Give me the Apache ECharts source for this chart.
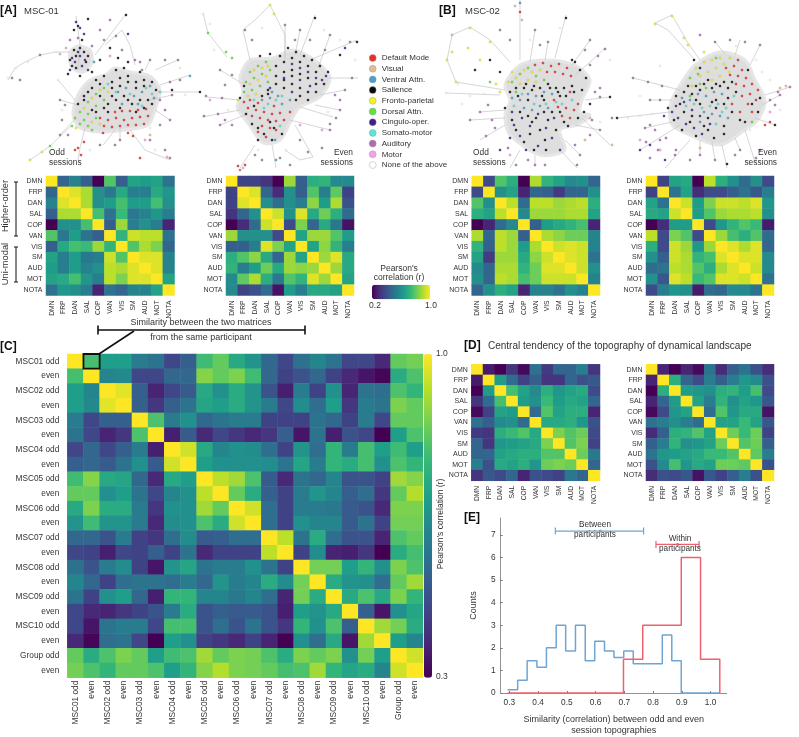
<!DOCTYPE html>
<html>
<head>
<meta charset="utf-8">
<style>html,body{margin:0;padding:0;background:#fff}#chart{width:799px;height:737px}</style>
<script src="https://cdn.jsdelivr.net/npm/echarts@6/dist/echarts.min.js"></script>
</head>
<body>
<div id="chart"></div>
<script>
const FONT = "Liberation Sans";
const viridis = ["#440154", "#482878", "#3e4989", "#31688e", "#26828e", "#1f9e89", "#35b779", "#6ece58", "#b5de2b", "#fde725"];

const networkLabels = ["DMN", "FRP", "DAN", "SAL", "COP", "VAN", "VIS", "SM", "AUD", "MOT", "NOTA"];
const sessionLabels = ["MSC01 odd", "even", "MSC02 odd", "even", "MSC03 odd", "even", "MSC04 odd", "even", "MSC05 odd", "even",
  "MSC06 odd", "even", "MSC07 odd", "even", "MSC08 odd", "even", "MSC09 odd", "even", "MSC10 odd", "even", "Group odd", "even"];

// upper triangles, each row starts on the diagonal
const msc01Odd = [
  [1,.46,.56,.44,.2,.78,.44,.66,.64,.66,.5],
  [1,.96,.9,.6,.52,.68,.54,.54,.68,.62],
  [1,.9,.6,.64,.76,.64,.64,.76,.6],
  [1,.76,.5,.74,.52,.56,.62,.54],
  [1,.44,.88,.54,.6,.54,.28],
  [1,.72,.94,.92,.92,.5],
  [1,.78,.9,.84,.46],
  [1,.96,.96,.56],
  [1,.96,.56],
  [1,.66],
  [1]
];
const msc01Even = [
  [1,.36,.36,.32,.2,.88,.44,.7,.72,.58,.58],
  [1,.96,.46,.3,.6,.44,.78,.54,.8,.36],
  [1,.6,.48,.6,.54,.86,.64,.9,.4],
  [1,.94,.6,.96,.68,.82,.7,.48],
  [1,.38,.84,.46,.68,.52,.24],
  [1,.66,.88,.88,.78,.64],
  [1,.66,.86,.72,.54],
  [1,.88,.96,.68],
  [1,.88,.68],
  [1,.66],
  [1]
];
const msc02Odd = [
  [1,.38,.78,.7,.2,.9,.72,.66,.58,.6,.46],
  [1,.6,.66,.28,.46,.44,.34,.46,.46,.6],
  [1,.92,.48,.92,.92,.88,.9,.92,.7],
  [1,.58,.88,.88,.88,.9,.9,.66],
  [1,.44,.64,.68,.72,.76,.28],
  [1,.9,.86,.82,.82,.56],
  [1,.94,.96,.94,.56],
  [1,.96,.94,.5],
  [1,.94,.6],
  [1,.56],
  [1]
];
const msc02Even = [
  [1,.36,.66,.68,.2,.92,.7,.6,.48,.6,.38],
  [1,.5,.66,.3,.38,.38,.44,.5,.42,.54],
  [1,.94,.64,.84,.94,.94,.92,.96,.62],
  [1,.64,.78,.88,.9,.9,.92,.6],
  [1,.38,.62,.72,.78,.74,.26],
  [1,.88,.76,.7,.78,.48],
  [1,.96,.9,.96,.46],
  [1,.96,.96,.58],
  [1,.94,.58],
  [1,.5],
  [1]
];
const centralOdd = [
  [1,.26,.2,.32,.22,.5,.34,.46,.46,.54,.32],
  [1,.64,.48,.36,.44,.32,.32,.46,.4,.42],
  [1,.76,.66,.58,.7,.62,.66,.68,.38],
  [1,.64,.6,.74,.64,.68,.66,.46],
  [1,.48,.78,.66,.7,.7,.28],
  [1,.68,.68,.7,.62,.4],
  [1,.84,.78,.82,.38],
  [1,.78,.84,.36],
  [1,.82,.52],
  [1,.46],
  [1]
];
const centralEven = [
  [1,.28,.2,.28,.22,.5,.3,.44,.5,.4,.3],
  [1,.7,.46,.38,.54,.44,.54,.62,.58,.4],
  [1,.64,.62,.6,.7,.72,.64,.76,.38],
  [1,.66,.54,.72,.6,.66,.62,.42],
  [1,.48,.78,.62,.68,.68,.24],
  [1,.66,.66,.74,.66,.42],
  [1,.82,.74,.82,.36],
  [1,.78,.82,.44],
  [1,.8,.54],
  [1,.4],
  [1]
];
const similarity = [
  [1,.79,.69,.69,.59,.57,.45,.51,.78,.83,.72,.66,.53,.45,.56,.62,.57,.45,.45,.38,.83,.85],
  [1,.62,.63,.45,.45,.53,.53,.87,.83,.86,.78,.53,.44,.48,.53,.44,.38,.34,.31,.73,.8],
  [1,.97,.51,.37,.45,.5,.72,.65,.73,.66,.48,.36,.59,.44,.65,.37,.57,.55,.8,.76],
  [1,.51,.41,.51,.57,.71,.69,.73,.66,.59,.45,.64,.55,.69,.41,.59,.57,.86,.83],
  [1,.8,.59,.65,.53,.57,.59,.59,.44,.44,.44,.57,.53,.44,.59,.45,.83,.83],
  [1,.36,.5,.38,.45,.41,.38,.41,.51,.34,.57,.36,.48,.45,.3,.69,.8],
  [1,.95,.72,.62,.65,.64,.55,.44,.66,.55,.76,.59,.79,.69,.78,.69],
  [1,.69,.65,.65,.65,.64,.57,.71,.59,.76,.73,.79,.65,.8,.76],
  [1,.93,.9,.8,.5,.38,.57,.53,.62,.48,.48,.44,.9,.87],
  [1,.83,.73,.51,.44,.59,.66,.62,.51,.55,.41,.83,.92],
  [1,.95,.55,.44,.59,.59,.58,.5,.48,.38,.86,.86],
  [1,.55,.44,.65,.62,.62,.5,.57,.44,.85,.85],
  [1,.93,.57,.73,.55,.48,.48,.37,.8,.83],
  [1,.44,.64,.37,.36,.41,.3,.73,.79],
  [1,.85,.85,.69,.76,.65,.86,.8],
  [1,.73,.66,.65,.55,.83,.9],
  [1,.72,.8,.72,.86,.76],
  [1,.51,.34,.65,.71],
  [1,.9,.85,.73],
  [1,.69,.62],
  [1,.95],
  [1]
];

// histogram of panel E
const betweenEdges = [.294,.329,.362,.396,.429,.463,.496,.53,.564,.597,.631,.664,.698,.731,.765,.798,.832,.865,.898,1.032];
const betweenCounts = [.14,.57,1.43,1.14,2,3,1.86,3,1.43,2.29,1.86,1.57,1.86,1.29,1.29,1.29,2.57,1.43,0,0];
const withinEdges = [.294,.697,.764,.898,.965,1.032,1.032];
const withinCounts = [0,1.5,3,6,1.5,0,0];
const xTicks = [.3,.4,.5,.6,.7,.8,.9,1];
const yTicks = [0,1,2,3,4,5,6,7];
// low, mean, high, height
const betweenRange = [.46,.616,.767,7.17];
const withinRange = [.81,.885,.96,6.58];

// network layouts: one shared layout plane, one array per community
const communityNames = ["Default Mode", "Visual", "Ventral Attn.", "Salience", "Fronto-parietal", "Dorsal Attn.", "Cingulo-oper.", "Somato-motor", "Auditory", "Motor", "None of the above"];
const communityColors = ["#e8302a", "#e6ba8e", "#4f9fc9", "#0a0a0a", "#f2f026", "#62e03c", "#3f1f8c", "#58e6d6", "#a96fb2", "#f0a4e4", "#ffffff"];
const defaultModeNodes = [
  [100,118],[108,120],[116,118],[124,120],[132,118],[140,117],[148,116],[104,126],[112,127],[120,126],[128,125],[136,125],[144,124],[122,111],[130,111],[138,110],[146,109],[115,112],[78,148],[81,155],[75,150],[84,142],[133,136],[140,158],[103,133],[128,133],
  [248,108],[256,110],[264,112],[272,114],[280,113],[252,116],[260,118],[268,120],[276,121],[284,120],[244,102],[262,126],[270,128],[258,132],[276,130],[266,137],[290,112],[250,100],[258,103],[274,106],[245,165],[238,166],
  [535,65],[543,63],[551,66],[559,64],[567,68],[547,72],[555,72],[563,74],[571,76],[520,12],[558,107],[566,108],[574,110],[562,116],[570,118],[578,104],[554,100],[570,92],
  [726,68],[734,66],[742,70],[730,75],[738,76],[746,78],[752,84],[744,86],[736,84],[750,94],[742,96],[756,100],[748,104],[740,112],[732,104],[752,112],[738,60],[758,90],[770,122],[765,125]
];
const visualNodes = [
  [60,54],[150,135],[167,157],[243,168],[452,35],[515,6],[522,20],[585,140],[612,145],[780,88],[786,86],[700,148]
];
const ventralNodes = [
  [118,92],[126,88],[134,96],[142,92],[150,86],[122,104],[138,104],[154,98],[190,76],[94,62],
  [262,100],[270,98],[278,96],[272,92],[282,104],[290,100],[275,140],[276,160],
  [512,98],[520,100],[528,94],[536,96],[544,92],[552,94],[524,108],[532,110],[540,106],[548,108],[520,3],
  [682,98],[690,100],[698,94],[706,96],[714,92],[722,94],[704,112],[712,114],[720,116],[728,118],[700,122]
];
const salienceNodes = [
  [96,80],[104,76],[112,82],[120,78],[128,76],[136,82],[144,80],[100,96],[108,104],[116,100],[124,96],[132,104],[140,100],[148,100],[108,112],[92,110],[80,48],[86,62],[76,56],[72,66],[156,90],[172,90],[200,92],[126,15],[88,19],
  [84,96],[92,88],[100,84],[112,88],[120,86],[128,82],[136,88],[144,86],[152,82],[88,92],[104,108],[112,96],[120,108],[128,100],[136,112],[144,108],[152,104],[96,112],[84,100],[78,104],[116,70],[124,68],[140,72],[70,60],[74,50],[84,52],[88,56],[76,68],[68,74],[80,76],[92,72],[100,60],[110,48],[118,58],[128,62],[74,30],[78,26],[82,40],
  [276,66],[284,62],[292,58],[300,62],[308,66],[316,72],[284,72],[292,70],[300,74],[308,78],[316,84],[292,84],[300,88],[308,92],[284,88],[276,84],[268,94],[296,100],[258,128],[270,122],[315,18],[340,55],[357,42],
  [260,56],[270,54],[280,56],[288,48],[296,52],[304,56],[312,60],[320,66],[276,76],[284,80],[292,76],[300,96],[308,100],[316,92],[324,84],[328,72],[268,90],[262,96],[254,106],[246,114],[274,128],[282,134],[264,134],[258,140],[272,140],[252,124],[244,86],[240,98],
  [516,88],[524,88],[532,90],[540,88],[548,84],[556,88],[564,88],[572,86],[528,100],[544,100],[560,96],[520,112],[532,122],[548,120],[564,122],[530,134],[545,140],[578,118],[575,62],[566,18],[610,97],
  [510,92],[518,96],[526,84],[534,86],[542,96],[550,88],[558,92],[566,96],[574,92],[582,90],[586,78],[580,70],[572,60],[528,116],[536,118],[544,112],[552,112],[560,112],[568,126],[516,130],[524,142],[534,150],[546,150],[556,130],[540,130],[512,120],[505,108],[500,72],[490,60],[475,70],[584,112],[590,104],
  [688,86],[696,86],[704,84],[712,88],[720,86],[728,88],[736,92],[696,100],[712,102],[728,98],[684,112],[700,104],[716,108],[724,126],[708,130],[690,122],[745,122],[617,118],[727,164],[775,125],
  [676,96],[684,92],[692,94],[700,90],[708,80],[716,84],[724,82],[732,82],[680,104],[692,116],[708,118],[716,100],[724,104],[732,112],[740,120],[724,134],[714,138],[704,126],[696,136],[682,130],[674,120],[668,108],[752,104],[758,112],[760,98],[748,70],[694,60],[700,68]
];
const frontoNodes = [
  [84,108],[92,98],[100,90],[76,128],[42,152],[30,160],[92,122],[100,124],[108,92],[270,5],
  [254,70],[262,68],[250,84],[258,80],[266,76],[256,94],[248,96],[274,14],[238,100],[268,66],
  [508,82],[516,78],[524,70],[532,72],[540,70],[520,84],[528,80],[536,82],[512,72],[500,92],[496,84],[452,52],[447,60],[470,28],[490,42],[480,60],[456,82],[468,48],
  [696,68],[704,62],[712,60],[720,58],[700,76],[708,72],[716,68],[724,64],[692,86],[712,80],[720,76],[730,58],[688,45],[672,16],[655,24],[684,38],[729,72],[704,52]
];
const dorsalNodes = [
  [80,112],[88,102],[96,94],[104,88],[88,114],[96,106],[104,100],[80,124],[88,126],[96,118],[75,118],[72,126],[84,120],[92,130],[50,146],
  [250,72],[258,66],[266,62],[246,82],[254,78],[262,74],[270,70],[252,90],[260,86],[268,82],[244,92],[232,58],[226,52],[208,33],
  [512,82],[520,74],[528,68],[516,92],[536,76],[544,80],[490,82],
  [690,78],[698,74],[706,88],[716,58],[700,84],[690,96],[752,122]
];
const cinguloNodes = [
  [80,56],[85,60],[75,62],[82,66],[78,52],[88,70],[72,58],[80,28],[76,22],[84,34],[70,70],[128,34],
  [300,68],[308,72],[316,78],[292,64],[284,78],[292,92],[300,80],[322,80],[310,86],[326,76],[345,48],[270,88],
  [514,125],[522,118],[530,126],[538,114],[546,128],[554,118],[520,136],[538,146],[552,138],[560,150],[512,112],[526,150],[510,138],[500,150],
  [676,106],[684,102],[692,110],[700,116],[678,118],[686,124],[694,128],[702,134],[672,112],[664,116],[650,145],[640,150],[665,160],[710,124]
];
const somatoNodes = [
  [108,84],[116,92],[130,94],[146,88],[152,94],[142,106],[160,92],
  [268,104],[282,96],[264,108],[254,100],[276,100],[280,126],
  [514,106],[522,94],[534,104],[546,104],[556,102],[562,104],[572,100],
  [686,106],[694,104],[702,108],[710,106],[718,104],[726,108],[734,96],[716,124],[722,112]
];
const auditoryNodes = [
  [70,40],[78,38],[92,46],[104,40],[116,36],[122,50],[135,60],[142,70],[165,150],[170,158],[20,80],[12,78],[40,55],[165,60],[178,60],
  [160,100],[165,110],[170,120],[160,125],[60,100],[65,105],[62,120],[68,135],[60,135],[150,140],[120,140],[115,145],[100,145],[170,82],[180,80],[172,95],[140,62],[150,60],[110,20],[100,30],
  [252,40],[245,30],[240,170],[310,40],[325,50],[330,124],[322,148],[336,118],[350,42],[352,78],[300,140],[206,96],[222,98],[204,116],[218,114],[308,152],
  [225,85],[232,75],[220,70],[225,120],[232,125],[220,125],[340,100],[345,90],[335,95],[330,130],[340,110],[300,30],[295,40],[285,25],[330,35],[255,155],[262,160],[280,158],[290,165],
  [495,128],[486,136],[508,148],[516,165],[577,165],[592,120],[598,56],[605,49],[590,65],[600,97],[470,120],
  [488,105],[480,112],[492,120],[600,88],[595,92],[612,118],[600,130],[590,135],[575,145],[580,155],[528,160],[535,165],[545,165],[500,30],[510,40],[535,30],[540,45],[548,42],[590,40],[585,50],
  [666,138],[658,150],[646,142],[650,158],[676,150],[690,160],[760,150],[756,158],[633,78],[648,82],[662,86],[790,87],[778,92],
  [650,125],[655,130],[645,128],[660,140],[675,155],[700,155],[715,160],[740,150],[735,155],[770,100],[775,105],[780,95],[760,45],[745,42],[730,40],[715,42],[700,35],[660,100],[650,100]
];
const motorNodes = [
  [66,48],[110,56],[145,140],[300,125],[322,130],[210,100],[590,118],[510,155],[640,140],[660,150],[770,112]
];
const noneNodes = [
  [56,52],[28,62],[16,68],[8,78],[62,110],[58,80],[180,68],[185,95],[155,150],[150,128],[90,150],
  [214,50],[210,24],[203,14],[228,110],[324,30],[340,40],[355,60],[328,112],[262,28],[258,150],[286,150],
  [446,93],[470,96],[484,94],[462,104],[458,84],[610,60],[560,28],[530,40],[600,122],
  [640,116],[628,118],[652,114],[640,96],[660,66],[756,60],[762,72],[770,80],[736,46],[750,130],[780,110]
];
const communityNodes = [defaultModeNodes, visualNodes, ventralNodes, salienceNodes, frontoNodes, dorsalNodes, cinguloNodes, somatoNodes, auditoryNodes, motorNodes, noneNodes];

// dense grey mass of edges behind the nodes
const coreOutlines = [
  [[73,115],[78,95],[90,80],[105,75],[115,68],[130,72],[150,76],[160,90],[155,110],[148,125],[125,130],[100,132],[80,128]],
  [[72,68],[70,52],[78,46],[90,50],[92,62],[84,72]],
  [[240,77],[250,60],[273,58],[293,50],[317,62],[330,78],[320,97],[300,107],[293,117],[280,140],[263,143],[248,123],[237,107],[243,93]],
  [[505,85],[520,65],[545,60],[575,65],[590,80],[582,100],[580,112],[590,115],[578,125],[560,130],[565,150],[540,155],[510,135],[505,115],[510,100]],
  [[670,105],[680,85],[695,65],[720,52],[745,60],[755,80],[765,100],[758,120],[745,130],[720,145],[690,135],[672,125]]
];
const tendrils = [
  [[70,52],[55,52],[40,55],[25,62],[15,68],[8,80]],[[78,70],[80,45],[76,16]],[[95,55],[110,35],[126,14]],[[105,45],[122,30],[130,45],[135,65]],
  [[72,125],[50,146],[30,160]],[[85,128],[80,148],[78,160]],[[130,130],[145,150],[170,160]],[[158,92],[200,92]],[[160,85],[190,75]],[[155,70],[178,60]],[[75,100],[58,80]],[[115,130],[103,145]],
  [[155,110],[170,120]],[[150,100],[172,95]],[[76,118],[60,135]],[[78,105],[60,100]],[[120,128],[120,140]],[[145,70],[150,60]],
  [[227,57],[208,33],[203,13]],[[250,60],[243,30],[255,20],[270,5],[285,35],[285,60]],[[300,55],[315,15]],[[310,60],[357,40]],[[328,78],[358,78]],
  [[240,100],[207,97]],[[240,110],[202,117]],[[255,145],[240,168]],[[272,145],[276,168]],[[300,107],[333,117]],[[295,125],[313,157],[300,160],[285,150]],
  [[245,85],[220,70]],[[245,115],[220,125]],[[320,95],[345,90]],[[315,105],[340,110]],[[295,55],[300,30]],[[285,55],[285,25]],[[318,68],[330,35]],[[290,120],[330,130]],
  [[505,90],[456,82],[447,60],[452,35],[470,27],[490,40],[510,62]],[[520,60],[520,0]],[[555,58],[566,15]],[[575,75],[590,62],[605,48]],[[585,100],[610,97]],
  [[500,95],[446,93]],[[520,150],[510,168]],[[560,150],[577,168]],[[505,125],[480,140]],[[470,120],[505,118]],[[582,118],[610,145]],
  [[530,62],[535,30]],[[545,60],[548,42]],[[572,65],[590,40]],[[575,125],[600,130]],[[565,140],[580,155]],[[535,155],[535,165]],[[505,110],[480,112]],
  [[695,60],[668,30],[655,23],[672,15],[688,43],[700,60]],[[765,95],[790,87]],[[670,112],[617,118]],[[680,90],[633,78]],[[680,125],[640,150]],[[690,140],[665,168]],
  [[722,145],[727,168]],[[755,118],[775,125]],[[745,130],[755,162]],[[735,55],[740,40]],
  [[672,100],[650,100]],[[672,122],[645,128]],[[700,140],[700,155]],[[712,142],[715,160]],[[735,138],[740,150]],[[750,65],[760,45]],[[725,54],[715,42]],[[762,105],[780,95]]
];

const sessionNotes = [
  ["Odd", 49, 153, "left"], ["sessions", 49, 163, "left"],
  ["Even", 353, 153, "right"], ["sessions", 353, 163, "right"],
  ["Odd", 473, 153, "left"], ["sessions", 473, 163, "left"],
  ["Even", 777, 153, "right"], ["sessions", 777, 163, "right"]
];

function fullMatrix(rows) {
  const m = rows.map(() => []);
  rows.forEach((row, i) => row.forEach((v, k) => { m[i][i + k] = v; m[i + k][i] = v; }));
  return m;
}
function cells(rows) {
  const out = [];
  fullMatrix(rows).forEach((row, i) => row.forEach((v, j) => out.push([j, i, v])));
  return out;
}
function text(str, x, y, extra) {
  return { type: "text", x: x, y: y, silent: true, zlevel: 1, style: Object.assign({ text: str, font: "8.5px " + FONT, fill: "#333", textAlign: "left", textVerticalAlign: "middle" }, extra) };
}
function label(str, x, y) {
  return text(str, x, y, { font: "bold 12px " + FONT, fill: "#111" });
}
function upright(str, x, y, font) {
  return Object.assign(text(str, x, y, { font: font + " " + FONT, textAlign: "center" }), { rotation: Math.PI / 2 });
}
function seg(x1, y1, x2, y2, width) {
  return { type: "line", silent: true, zlevel: 1, shape: { x1, y1, x2, y2 }, style: { stroke: "#111", lineWidth: width } };
}

const matrices = [
  { rows: msc01Odd, box: [46, 176, 128.5, 119.5], min: .2, cats: networkLabels },
  { rows: msc01Even, box: [226, 176, 128, 119.5], min: .2, cats: networkLabels },
  { rows: msc02Odd, box: [471.7, 176, 128.3, 119.5], min: .2, cats: networkLabels },
  { rows: msc02Even, box: [646, 176, 128, 119.5], min: .2, cats: networkLabels },
  { rows: centralOdd, box: [471.3, 364.3, 128.7, 116.5], min: .2, cats: networkLabels },
  { rows: centralEven, box: [646, 364.3, 128, 116.5], min: .2, cats: networkLabels },
  { rows: similarity, box: [67.3, 354, 355.7, 323.7], min: .3, cats: sessionLabels }
];

const grid = [], xAxis = [], yAxis = [], series = [], visualMap = [];
matrices.forEach((m, i) => {
  const big = m.cats === sessionLabels;
  grid.push({ left: m.box[0], top: m.box[1], width: m.box[2], height: m.box[3] });
  xAxis.push({
    type: "category", gridIndex: i, data: m.cats, axisLine: { show: false }, axisTick: { show: false },
    axisLabel: { rotate: 90, interval: 0, fontSize: big ? 8.3 : 6.7, color: "#333", margin: big ? 3 : 5, fontFamily: FONT }
  });
  yAxis.push({
    type: "category", gridIndex: i, inverse: true, data: m.cats, axisLine: { show: false }, axisTick: { show: false },
    axisLabel: { interval: 0, fontSize: big ? 8.3 : 7, color: "#333", margin: big ? 8 : 3.5, fontFamily: FONT }
  });
  series.push({ type: "heatmap", xAxisIndex: i, yAxisIndex: i, data: cells(m.rows), silent: true, progressive: 0 });
  visualMap.push({ show: false, seriesIndex: i, min: m.min, max: 1, inRange: { color: viridis } });
});
// the two colour bars on the page
visualMap[6] = { show: true, seriesIndex: 6, min: .3, max: 1, calculable: false, left: 424, top: 354, itemWidth: 8, itemHeight: 323.7, padding: 0, text: null, showLabel: false, inRange: { color: viridis }, hoverLink: false };
visualMap[0] = { show: true, seriesIndex: 0, min: .2, max: 1, calculable: false, orient: "horizontal", left: 372, top: 284.7, itemWidth: 14.6, itemHeight: 58, padding: 0, text: null, showLabel: false, inRange: { color: viridis }, hoverLink: false };

// black box around MSC01 odd vs even
series.push({
  type: "custom", xAxisIndex: 6, yAxisIndex: 6, data: [[1, 0]], silent: true, z: 5, encode: { x: 0, y: 1 },
  renderItem: (params, api) => {
    const c = api.coord([api.value(0), api.value(1)]);
    const s = api.size([1, 1]);
    return { type: "rect", shape: { x: c[0] - s[0] / 2, y: c[1] - s[1] / 2, width: s[0], height: s[1] }, style: { fill: null, stroke: "#111", lineWidth: 1.8 } };
  }
});

// panel E
const histIdx = grid.length;
grid.push({ left: 500.7, top: 518, width: 226, height: 178 });
xAxis.push({
  type: "value", gridIndex: histIdx, min: .27, max: 1.056, splitLine: { show: false },
  name: "Similarity (correlation) between odd and even\nsession topographies", nameLocation: "middle", nameGap: 21,
  nameTextStyle: { fontSize: 9, color: "#333", fontFamily: FONT, lineHeight: 11, verticalAlign: "top" },
  axisLine: { lineStyle: { color: "#777", width: .8 } },
  axisTick: { inside: true, length: 2, customValues: xTicks, lineStyle: { color: "#777" } },
  axisLabel: { customValues: xTicks, formatter: v => v.toFixed(1), fontSize: 8.3, color: "#333", margin: 6, fontFamily: FONT }
});
yAxis.push({
  type: "value", gridIndex: histIdx, min: 0, max: 7.75, splitLine: { show: false },
  name: "Counts", nameLocation: "middle", nameGap: 23,
  nameTextStyle: { fontSize: 9, color: "#333", fontFamily: FONT },
  axisLine: { show: true, lineStyle: { color: "#777", width: .8 } },
  axisTick: { show: true, inside: true, length: 2, customValues: yTicks, lineStyle: { color: "#777" } },
  axisLabel: { customValues: yTicks, fontSize: 8.3, color: "#333", margin: 5, fontFamily: FONT }
});
const histLine = (edges, counts, color) => ({
  type: "line", xAxisIndex: histIdx, yAxisIndex: histIdx, step: "end", showSymbol: false, silent: true,
  data: edges.map((e, i) => [e, counts[i]]), lineStyle: { color: color, width: 1.5 }
});
series.push(histLine(betweenEdges, betweenCounts, "#6fa5d4"));
series.push(histLine(withinEdges, withinCounts, "#f0616c"));
const rangeBar = (range, color) => ({
  type: "custom", xAxisIndex: histIdx, yAxisIndex: histIdx, data: [range], silent: true, encode: { x: [0, 1, 2], y: 3 },
  renderItem: (params, api) => {
    const lo = api.coord([api.value(0), api.value(3)]);
    const mid = api.coord([api.value(1), api.value(3)]);
    const hi = api.coord([api.value(2), api.value(3)]);
    const st = { stroke: color, lineWidth: 1.2 };
    return { type: "group", children: [
      { type: "line", shape: { x1: lo[0], y1: lo[1], x2: hi[0], y2: hi[1] }, style: st },
      { type: "line", shape: { x1: lo[0], y1: lo[1] - 3.5, x2: lo[0], y2: lo[1] + 3.5 }, style: st },
      { type: "line", shape: { x1: hi[0], y1: hi[1] - 3.5, x2: hi[0], y2: hi[1] + 3.5 }, style: st },
      { type: "circle", shape: { cx: mid[0], cy: mid[1], r: 1.5 }, style: { fill: color } }
    ] };
  }
});
series.push(rangeBar(betweenRange, "#6fa5d4"));
series.push(rangeBar(withinRange, "#f0616c"));

// networks, drawn over the top of the matrices
const netIdx = grid.length;
grid.push({ left: 0, top: 0, width: 799, height: 190 });
xAxis.push({ type: "value", gridIndex: netIdx, min: 0, max: 799, show: false });
yAxis.push({ type: "value", gridIndex: netIdx, min: 0, max: 190, inverse: true, show: false });
series.push({
  type: "custom", xAxisIndex: netIdx, yAxisIndex: netIdx, silent: true, z: 3, clip: false,
  data: coreOutlines.map((o, i) => [i]),
  renderItem: (params, api) => ({
    type: "polygon", shape: { points: coreOutlines[api.value(0)].map(p => api.coord(p)), smooth: .3 },
    style: { fill: "#dedede", stroke: "#e6e6e6", lineWidth: 3 }
  })
});
series.push({
  type: "lines", coordinateSystem: "cartesian2d", xAxisIndex: netIdx, yAxisIndex: netIdx, polyline: true, silent: true, z: 3,
  data: tendrils.map(t => ({ coords: t })), lineStyle: { color: "#c4c4c4", width: .7, opacity: 1 }
});
communityNames.forEach((name, i) => {
  const none = i === communityNames.length - 1;
  series.push({
    type: "scatter", name: name, xAxisIndex: netIdx, yAxisIndex: netIdx, data: communityNodes[i], symbol: "circle", symbolSize: none ? 2 : 2.5, silent: true, z: 4,
    itemStyle: { color: communityColors[i], borderColor: none ? "#aaa" : "#555", borderWidth: none ? .3 : .15, opacity: .85 }
  });
});

const graphic = [
  label("[A]", 0, 11), text("MSC-01", 24, 11, { font: "9.5px " + FONT }),
  label("[B]", 439, 11), text("MSC-02", 465, 11, { font: "9.5px " + FONT }),
  label("[C]", 0, 347), label("[D]", 464, 346), label("[E]", 464, 518),
  text("Central tendency of the topography of dynamical landscape", 488, 346, { font: "10px " + FONT }),
  text("Similarity between the two matrices", 201, 323, { font: "9px " + FONT, textAlign: "center" }),
  text("from the same participant", 201, 338, { font: "9px " + FONT, textAlign: "center" }),
  seg(98, 330, 305, 330, 1.6), seg(98, 325.5, 98, 334.5, 1.6), seg(305, 325.5, 305, 334.5, 1.6), seg(99, 354, 134, 331, 1.6),
  upright("Higher-order", 5, 206, "9.3px"), upright("Uni-modal", 5, 264, "9.3px"),
  seg(16, 182, 16, 236, 1), seg(14, 182, 18, 182, 1), seg(14, 236, 18, 236, 1),
  seg(16, 247, 16, 282, 1), seg(14, 247, 18, 247, 1), seg(14, 282, 18, 282, 1),
  text("Pearson's", 399, 268.5, { textAlign: "center" }), text("correlation (r)", 399, 278, { textAlign: "center" }),
  text("0.2", 375, 306, { textAlign: "center" }), text("1.0", 431, 306, { textAlign: "center" }),
  text("1.0", 436, 354), text("0.3", 436, 677),
  upright("Pearson's correlation (r)", 441, 524, "8.5px"),
  text("Between", 595, 525, { font: "8.2px " + FONT, textAlign: "center" }), text("participants", 595, 535, { font: "8.2px " + FONT, textAlign: "center" }),
  text("Within", 680, 539, { font: "8.2px " + FONT, textAlign: "center" }), text("participants", 680, 549, { font: "8.2px " + FONT, textAlign: "center" })
].concat(sessionNotes.map(n => text(n[0], n[1], n[2], { textAlign: n[3], font: "8.4px " + FONT })));

const chart = echarts.init(document.getElementById("chart"), null, { renderer: "canvas" });
chart.setOption({
  animation: false,
  backgroundColor: "#fff",
  textStyle: { fontFamily: FONT },
  grid, xAxis, yAxis, visualMap, series, graphic,
  legend: {
    data: communityNames, orient: "vertical", left: 369, top: 54, padding: 0, itemWidth: 8, itemHeight: 7, itemGap: 2.7,
    icon: "circle", selectedMode: false, itemStyle: { borderWidth: .4, borderColor: "#999", opacity: 1 },
    textStyle: { fontSize: 8, color: "#333", fontFamily: FONT, padding: [0, 0, 0, 0] }
  }
});
</script>
</body>
</html>
